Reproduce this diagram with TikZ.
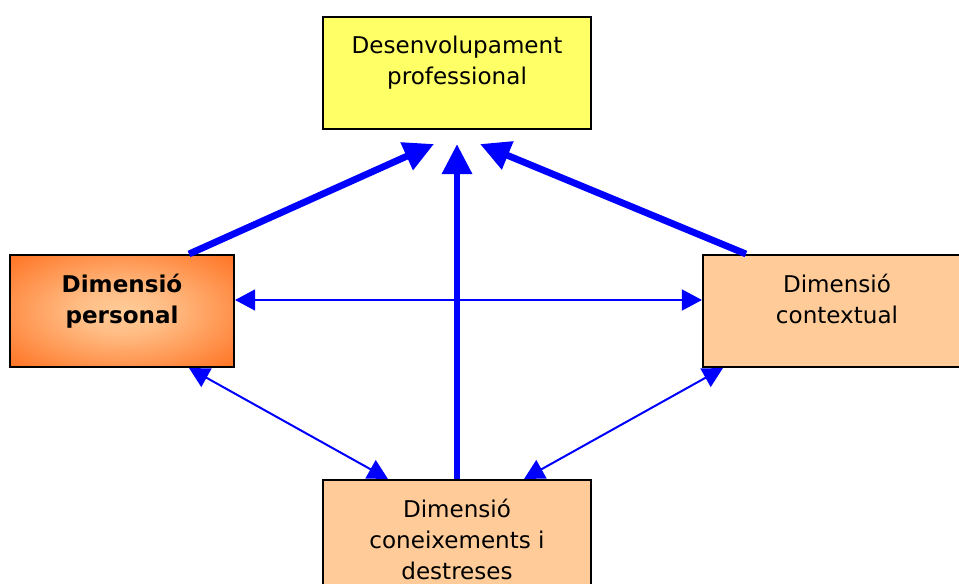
\documentclass[tikz,border=0pt]{standalone}
\usepackage{fontspec}
\setmainfont{DejaVu Sans}
\usetikzlibrary{arrows.meta,positioning,calc}
\definecolor{boxyellow}{HTML}{FFFF66}
\definecolor{boxpeach}{HTML}{FFCC99}
\definecolor{boxorange}{HTML}{FF6611}
\definecolor{arrblue}{HTML}{0000FF}
\pgfdeclareradialshading{persglow}{\pgfpoint{0bp}{0bp}}{%
  color(0bp)=(boxpeach); color(10bp)=(boxpeach!85!boxorange);
  color(40bp)=(boxorange); color(50bp)=(boxorange)}
\tikzset{
  bigarr/.style={-{Triangle[length=0.75cm, width=0.72cm]}, line width=0.17cm, draw=arrblue},
  smallarr/.style={{Triangle[length=0.5cm, width=0.52cm]}-{Triangle[length=0.5cm, width=0.52cm]}, line width=0.05cm, draw=arrblue},
  dimbox/.style={draw=black, line width=0.05cm, minimum height=2.8cm, inner sep=0pt},
}

\begin{document}
\begin{tikzpicture}[
  x=0.025cm, y=-0.025cm,
  font=\fontsize{16.4}{22}\selectfont,
  txt/.style={align=center, inner sep=0pt},
]
  \clip (0,0) rectangle (959,584);
  \fill[white] (0,0) rectangle (959,584);

  % boxes
  \node[dimbox, fill=boxyellow, minimum width=6.7cm] (prof) at (457,73) {};
  \node[dimbox, shading=persglow, minimum width=5.6cm] (pers) at (122,311) {};
  \node[dimbox, fill=boxpeach, minimum width=6.7cm] (ctx) at (837,311) {};
  \node[dimbox, fill=boxpeach, minimum width=6.7cm] (coni) at (457,536) {};

  % texts
  \node[txt, below=14pt of prof.north] (proftxt) {Desenvolupament\\professional};
  \node[txt, below=14pt of pers.north, font=\fontsize{16.4}{22}\selectfont\bfseries] (perstxt) {Dimensió\\personal};
  \node[txt, below=14pt of ctx.north] (ctxtxt) {Dimensió\\contextual};
  \node[txt, below=14pt of coni.north] (conitxt) {Dimensió\\coneixements i\\destreses};

  % arrow tips under the top box
  \coordinate (tipL) at ([xshift=-0.575cm, yshift=-0.35cm]prof.south);
  \coordinate (tipM) at ([yshift=-0.35cm]prof.south);
  \coordinate (tipR) at ([xshift=0.575cm, yshift=-0.35cm]prof.south);

  \draw[bigarr] ([xshift=4.5cm]pers.north west) -- (tipL);
  \draw[bigarr] (coni.north) -- (tipM);
  \draw[bigarr] ([xshift=1.1cm]ctx.north west) -- (tipR);

  \draw[smallarr] ([yshift=0.275cm]pers.east) -- ([yshift=0.275cm]ctx.west);
  \draw[smallarr] ([xshift=4.5cm]pers.south west) -- ([xshift=1.65cm]coni.north west);
  \draw[smallarr] ([xshift=0.525cm]ctx.south west) -- ([xshift=5.05cm]coni.north west);
\end{tikzpicture}
\end{document}
